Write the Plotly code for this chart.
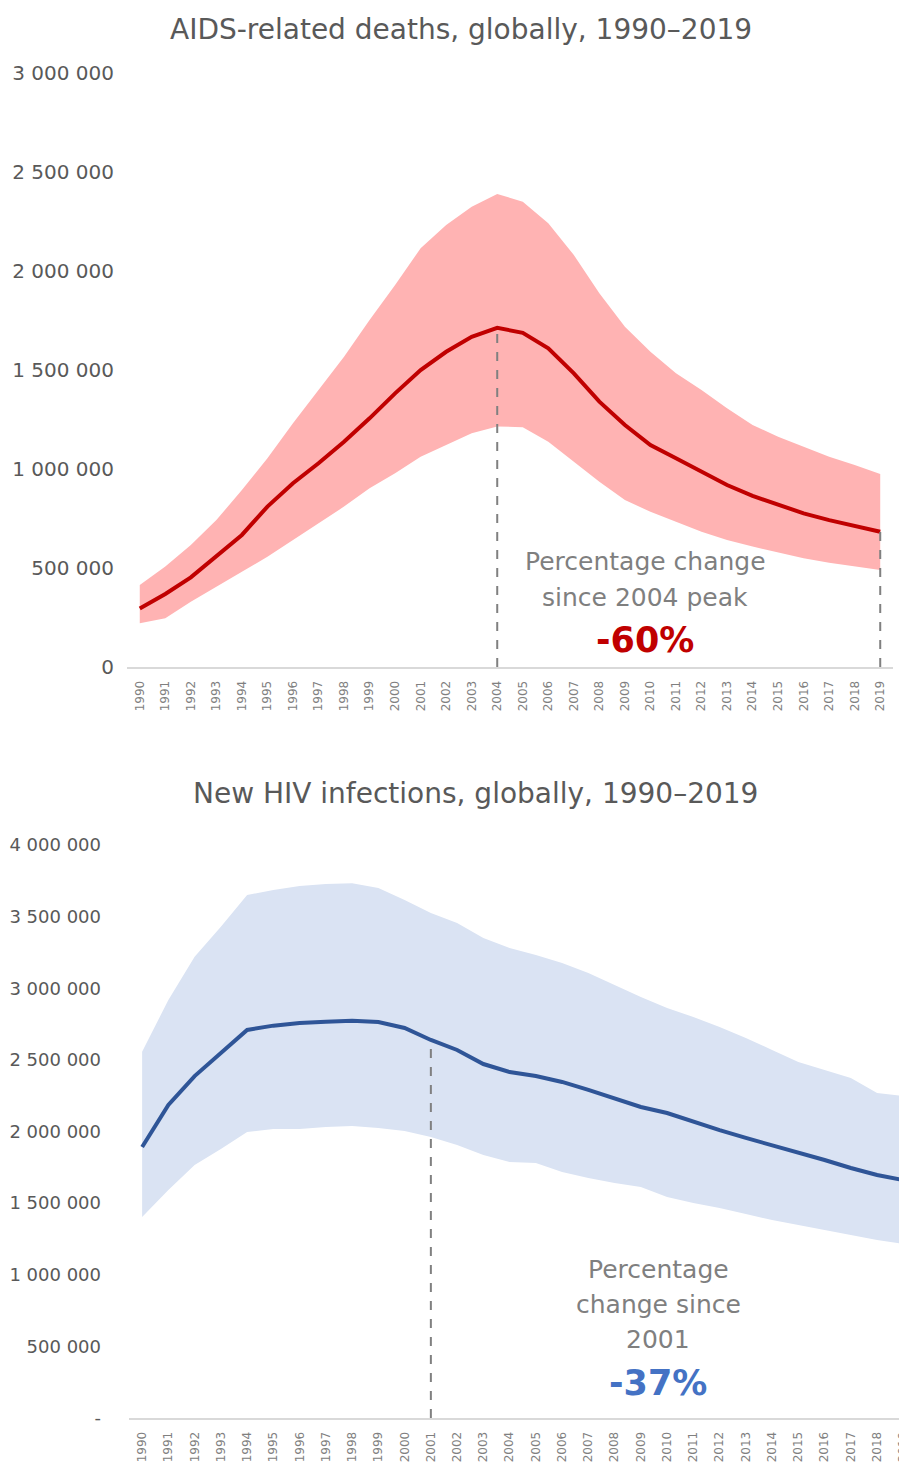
import plotly.graph_objects as go

# The page body adds an 8px margin, so the figure is sized to fill the rest of the window
OFF = 8
W, H = 907 - OFF, 1463 - OFF

years = list(range(1990, 2020))
year_labels = [str(y) for y in years]

# AIDS-related deaths (central estimate and bounds)
deaths = [296000, 369000, 453000, 557000, 667000, 810000, 928000, 1029000, 1138000, 1256000,
          1382000, 1500000, 1592000, 1668000, 1713000, 1688000, 1610000, 1483000, 1340000, 1222000,
          1121000, 1054000, 986000, 919000, 864000, 818000, 776000, 742000, 712000, 683000]
deaths_upper = [414000, 507000, 616000, 742000, 894000, 1054000, 1231000, 1399000, 1567000, 1753000,
                1929000, 2115000, 2232000, 2325000, 2389000, 2350000, 2241000, 2081000, 1887000, 1719000,
                1592000, 1483000, 1399000, 1307000, 1222000, 1163000, 1113000, 1062000, 1020000, 975000]
deaths_lower = [221000, 246000, 330000, 406000, 481000, 557000, 641000, 726000, 810000, 903000,
                978000, 1062000, 1121000, 1180000, 1215000, 1211000, 1138000, 1037000, 936000, 843000,
                784000, 734000, 683000, 641000, 608000, 577000, 549000, 527000, 507000, 490000]

# New HIV infections (central estimate and bounds)
infections = [1892000, 2185000, 2387000, 2548000, 2709000, 2739000, 2757000, 2767000, 2773000, 2764000,
              2723000, 2639000, 2569000, 2471000, 2415000, 2387000, 2346000, 2290000, 2234000, 2171000,
              2129000, 2066000, 2010000, 1955000, 1906000, 1850000, 1801000, 1745000, 1696000, 1661000]
infections_upper = [2557000, 2918000, 3220000, 3430000, 3651000, 3686000, 3714000, 3728000, 3733000, 3700000,
                    3616000, 3525000, 3455000, 3351000, 3281000, 3232000, 3176000, 3106000, 3023000, 2939000,
                    2862000, 2799000, 2729000, 2653000, 2569000, 2485000, 2429000, 2373000, 2269000, 2248000]
infections_lower = [1403000, 1592000, 1766000, 1878000, 1997000, 2017000, 2017000, 2031000, 2038000, 2024000,
                    2003000, 1962000, 1906000, 1836000, 1787000, 1780000, 1717000, 1675000, 1640000, 1613000,
                    1543000, 1501000, 1466000, 1424000, 1382000, 1347000, 1312000, 1277000, 1243000, 1215000]

deaths_ticks = [0, 500000, 1000000, 1500000, 2000000, 2500000, 3000000]
deaths_ticktext = ["0", "500 000", "1 000 000", "1 500 000", "2 000 000", "2 500 000", "3 000 000"]
inf_ticks = [0, 500000, 1000000, 1500000, 2000000, 2500000, 3000000, 3500000, 4000000]
inf_ticktext = ["-", "500 000", "1 000 000", "1 500 000", "2 000 000", "2 500 000", "3 000 000",
                "3 500 000", "4 000 000"]

peak_year_deaths = 2004
ref_year_inf = 2001
end_year = 2019

FONT = "DejaVu Sans"
GREY = "#595959"
TXT = "#7f7f7f"

fig = go.Figure()

# Top: deaths band + line
fig.add_trace(go.Scatter(x=years + years[::-1], y=deaths_upper + deaths_lower[::-1],
                         fill="toself", fillcolor="#ffb3b3", line=dict(width=0),
                         mode="lines", hoverinfo="skip", showlegend=False, xaxis="x", yaxis="y"))
fig.add_trace(go.Scatter(x=years, y=deaths, mode="lines", line=dict(color="#c00000", width=4),
                         showlegend=False, xaxis="x", yaxis="y"))

# Bottom: infections band + line
fig.add_trace(go.Scatter(x=years + years[::-1], y=infections_upper + infections_lower[::-1],
                         fill="toself", fillcolor="#dae3f3", line=dict(width=0),
                         mode="lines", hoverinfo="skip", showlegend=False, xaxis="x2", yaxis="y2"))
fig.add_trace(go.Scatter(x=years, y=infections, mode="lines", line=dict(color="#2f5597", width=4),
                         showlegend=False, xaxis="x2", yaxis="y2"))

def px(x):
    return min(max((x - OFF) / W, 0.0), 1.0)

def py(y):
    return min(max(1 - (y - OFF) / H, 0.0), 1.0)

shapes = []
for yr in (peak_year_deaths, end_year):
    v = deaths[years.index(yr)]
    shapes.append(dict(type="line", xref="x", yref="y", x0=yr, x1=yr, y0=0, y1=v,
                       line=dict(color="#808080", width=2, dash="dash")))
for yr in (ref_year_inf, end_year):
    v = infections[years.index(yr)]
    shapes.append(dict(type="line", xref="x2", yref="y2", x0=yr, x1=yr, y0=0, y1=v,
                       line=dict(color="#808080", width=2, dash="dash")))

ann = []
def txt(text, x, y, size, color, bold=False):
    ann.append(dict(text=("<b>%s</b>" % text) if bold else text, xref="paper", yref="paper",
                    x=px(x), y=py(y), xanchor="center", yanchor="middle", showarrow=False,
                    font=dict(family=FONT, size=size, color=color)))

txt("AIDS-related deaths, globally, 1990–2019", 461, 30, 28, GREY)
txt("New HIV infections, globally, 1990–2019", 476, 793, 28, GREY)
txt("Percentage change", 645, 561, 25, TXT)
txt("since 2004 peak", 645, 597, 25, TXT)
txt("-60%", 645, 640, 35, "#c00000", bold=True)
txt("Percentage", 658, 1269, 25, TXT)
txt("change since", 658, 1304, 25, TXT)
txt("2001", 658, 1339, 25, TXT)
txt("-37%", 658, 1383, 35, "#4472c4", bold=True)

xaxis_common = dict(tickmode="array", tickvals=years, ticktext=year_labels, tickangle=-90,
                    showgrid=False, zeroline=False, showline=True, linecolor="#d9d9d9", linewidth=2,
                    ticks="", tickfont=dict(family=FONT, size=12, color="#808080"),
                    ticklabelstandoff=7, automargin=False, ticklabeloverflow="allow")
yaxis_common = dict(showgrid=False, zeroline=False, showline=False, ticks="", tickmode="array",
                    automargin=False)

fig.update_layout(
    width=W, height=H, autosize=False,
    margin=dict(l=0, r=0, t=0, b=0, pad=0),
    paper_bgcolor="white", plot_bgcolor="white",
    showlegend=False,
    xaxis=dict(domain=[px(127), px(893)], range=[1989.5, 2019.5], anchor="y", **xaxis_common),
    yaxis=dict(domain=[py(667), py(73)], range=[0, 3000000], anchor="x",
               tickvals=deaths_ticks, ticktext=deaths_ticktext, ticklabelstandoff=12,
               tickfont=dict(family=FONT, size=20, color=GREY), **yaxis_common),
    xaxis2=dict(domain=[px(129), 1.0], range=[1989.5, 2019.14], anchor="y2", **xaxis_common),
    yaxis2=dict(domain=[py(1418), py(845)], range=[0, 4000000], anchor="x2",
                tickvals=inf_ticks, ticktext=inf_ticktext, ticklabelstandoff=27,
                tickfont=dict(family=FONT, size=18, color=GREY), **yaxis_common),
    shapes=shapes,
    annotations=ann,
)

fig.write_html("out.html")
